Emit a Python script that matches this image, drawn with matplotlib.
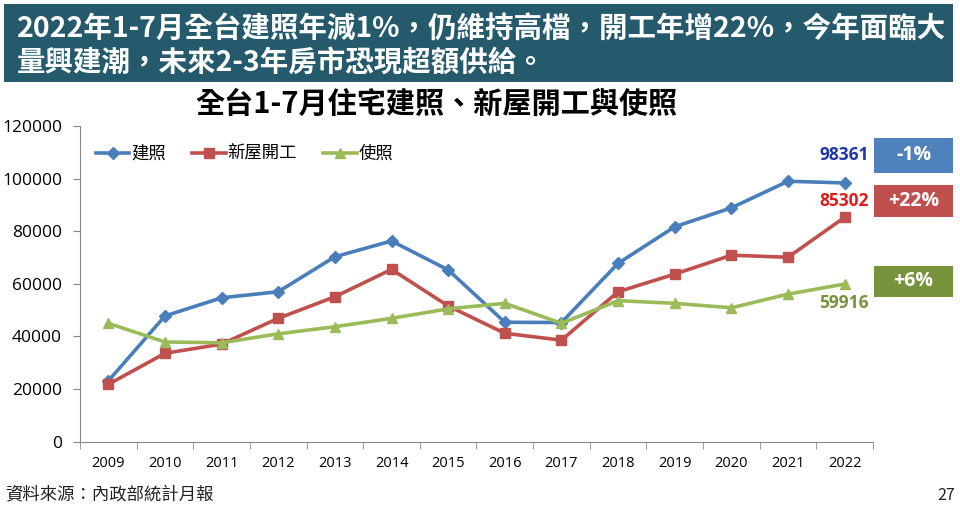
import matplotlib
matplotlib.use("Agg")
import matplotlib.pyplot as plt
from matplotlib.patches import Rectangle

plt.rcParams['font.family'] = ['Noto Sans CJK TC', 'DejaVu Sans']

# data
years = ['2009', '2010', '2011', '2012', '2013', '2014', '2015',
         '2016', '2017', '2018', '2019', '2020', '2021', '2022']
permits = [23100, 47800, 54700, 57000, 70300, 76300, 65300,
           45400, 45300, 67800, 81700, 88900, 99000, 98361]
starts = [21800, 33600, 37100, 46900, 55100, 65500, 51600,
          41200, 38600, 57000, 63700, 70900, 70100, 85302]
occupancy = [45000, 37900, 37600, 41000, 43700, 46900, 50500,
             52600, 45000, 53600, 52600, 50900, 56100, 59916]
series_names = ['建照', '新屋開工', '使照']
changes = ['-1%', '+22%', '+6%']

W, H = 960, 507
fig = plt.figure(figsize=(W / 100, H / 100), dpi=100)


def fx(px):
    return px / W


def fy(py):
    return 1 - py / H


num_font = ['Open Sans', 'DejaVu Sans']

# header banner
fig.patches.append(Rectangle((fx(4), fy(82)), fx(949), 78 / H, transform=fig.transFigure,
                             facecolor='#245a6b', edgecolor='none', zorder=0))
fig.text(fx(17), fy(30), '2022年1-7月全台建照年減1%，仍維持高檔，開工年增22%，今年面臨大',
         color='white', fontsize=20.5, fontweight='bold', va='center', ha='left')
fig.text(fx(17), fy(63), '量興建潮，未來2-3年房市恐現超額供給。',
         color='white', fontsize=20.5, fontweight='bold', va='center', ha='left')

fig.text(fx(436), fy(104), '全台1-7月住宅建照、新屋開工與使照', fontsize=21,
         fontweight='bold', ha='center', va='center', color='black')

ax = fig.add_axes([fx(80), fy(441.7), fx(793), 315.7 / H])
x = list(range(len(years)))
ax.plot(x, permits, color='#4a7ebb', lw=2.6, marker='D', ms=6, label=series_names[0])
ax.plot(x, starts, color='#c0504d', lw=2.6, marker='s', ms=6.5, label=series_names[1])
ax.plot(x, occupancy, color='#9bbb59', lw=2.6, marker='^', ms=7, label=series_names[2])

ax.set_xlim(-0.5, len(years) - 0.5)
ax.set_ylim(0, 120000)
ax.set_yticks(range(0, 120001, 20000))
ax.set_yticklabels([str(v) for v in range(0, 120001, 20000)], fontsize=12.5, family=num_font)
ax.set_xticks(x)
ax.set_xticklabels(years, fontsize=10.5, family=num_font)
ax.set_xticks([i - 0.5 for i in range(len(years) + 1)], minor=True)
ax.tick_params(axis='x', which='major', length=0, pad=10)
ax.tick_params(axis='x', which='minor', length=5, color='#888888', direction='out')
ax.tick_params(axis='y', length=5, color='#888888', direction='out', pad=8)
for s in ['top', 'right']:
    ax.spines[s].set_visible(False)
for s in ['left', 'bottom']:
    ax.spines[s].set_color('#888888')

ax.legend(loc='upper left', bbox_to_anchor=(0.0, 0.99), ncol=3, frameon=False,
          fontsize=12.5, handlelength=1.95, columnspacing=1.5, handletextpad=0.1)

# end value labels
last = len(years) - 1
ax.annotate(str(permits[-1]), (last, permits[-1]), xytext=(24, 28), textcoords='offset pixels',
            ha='right', va='center', color='#1f37a8', fontsize=12.5, fontweight='bold',
            family=num_font)
ax.annotate(str(starts[-1]), (last, starts[-1]), xytext=(24, 16), textcoords='offset pixels',
            ha='right', va='center', color='#e31a1c', fontsize=12.5, fontweight='bold',
            family=num_font)
ax.annotate(str(occupancy[-1]), (last, occupancy[-1]), xytext=(24, -19), textcoords='offset pixels',
            ha='right', va='center', color='#77933c', fontsize=12.5, fontweight='bold',
            family=num_font)

# change boxes at right
boxes = [(138, 173, '#4f81bd'), (185, 217, '#c0504d'), (266, 297, '#77933c')]
for (top, bot, col), txt in zip(boxes, changes):
    fig.patches.append(Rectangle((fx(874), fy(bot)), fx(79), (bot - top) / H,
                                 transform=fig.transFigure, facecolor=col, edgecolor='none'))
    fig.text(fx(913.5), fy((top + bot) / 2), txt, color='white', fontsize=14,
             fontweight='bold', ha='center', va='center', family=num_font)

fig.text(fx(5), fy(495), '資料來源：內政部統計月報', fontsize=12.5, va='center', ha='left', color='#222222')
fig.text(fx(955), fy(495), '27', fontsize=11.5, va='center', ha='right', color='#222222')

fig.savefig('out.png', dpi=100)
